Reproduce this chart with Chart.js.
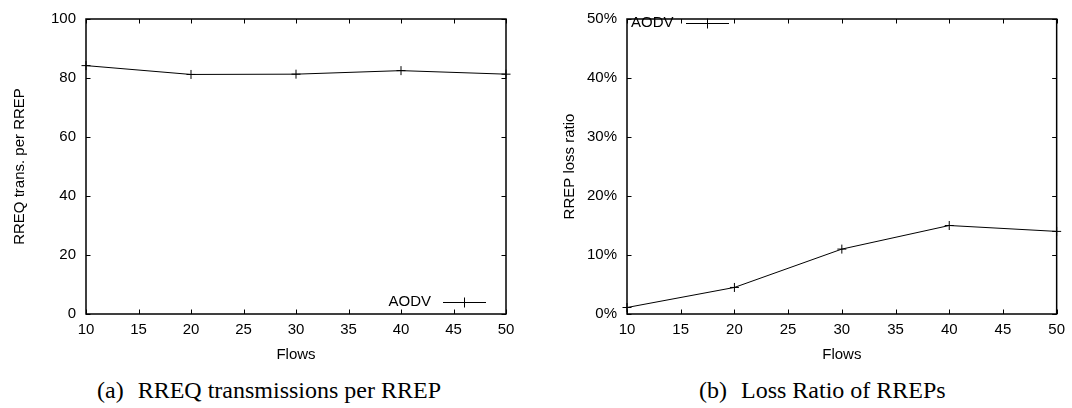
<!DOCTYPE html>
<html><head><meta charset="utf-8">
<script src="https://cdn.jsdelivr.net/npm/chart.js@4"></script>
<style>
html,body{margin:0;padding:0;background:#fff;}
body{width:1072px;height:408px;position:relative;overflow:hidden;}
.wrap{position:absolute;top:0;height:370px;}
.cap{position:absolute;top:378px;font-family:'Liberation Serif','Times New Roman',serif;font-size:24px;line-height:24px;white-space:nowrap;color:#000;}
.cap .tag{margin-right:14px;}
</style></head><body>
<div class="wrap" style="left:0;width:540px"><canvas id="c1" width="540" height="370"></canvas></div>
<div class="wrap" style="left:536px;width:536px"><canvas id="c2" width="536" height="370"></canvas></div>
<div class="cap" style="left:97px"><span class="tag">(a)</span>RREQ transmissions per RREP</div>
<div class="cap" style="left:699px"><span class="tag">(b)</span>Loss Ratio of RREPs</div>
<script>
const flows = [10, 20, 30, 40, 50];
const rreqPerRrep = [84.2, 81.2, 81.3, 82.5, 81.3];
const rrepLossPct = [1.1, 4.5, 11.0, 15.0, 14.0];
const seriesName = 'AODV';
const xRange = [10, 50], xStep = 5;
const yRangeA = [0, 100], yStepA = 20;
const yRangeB = [0, 50], yStepB = 10;

Chart.defaults.font.family = "'Liberation Sans', Arial, sans-serif";
Chart.defaults.font.size = 15;
Chart.defaults.color = '#000';

const framePlugin = {
  id: 'frame',
  afterDatasetsDraw(chart, args, opts) {
    const {ctx, chartArea: {left, right, top, bottom}, scales: {x, y}} = chart;
    ctx.save();
    ctx.strokeStyle = '#000';
    ctx.lineWidth = 1;
    const L = 4.5;
    ctx.beginPath();
    x.ticks.forEach(t => {
      const px = Math.round(x.getPixelForValue(t.value)) + 0.5;
      ctx.moveTo(px, bottom); ctx.lineTo(px, bottom - L);
      ctx.moveTo(px, top); ctx.lineTo(px, top + L);
    });
    y.ticks.forEach(t => {
      const py = Math.round(y.getPixelForValue(t.value)) + 0.5;
      ctx.moveTo(left, py); ctx.lineTo(left + L, py);
      ctx.moveTo(right, py); ctx.lineTo(right - L, py);
    });
    ctx.stroke();
    ctx.lineWidth = 1.5;
    ctx.strokeRect(left, top, right - left, bottom - top);
    // legend
    const lg = opts.legend;
    const ds = chart.data.datasets[0];
    ctx.font = "15px 'Liberation Sans', Arial, sans-serif";
    ctx.fillStyle = '#000';
    ctx.textBaseline = 'middle';
    ctx.textAlign = lg.align;
    ctx.fillText(ds.label, lg.textX, lg.y);
    ctx.lineWidth = 1;
    ctx.beginPath();
    ctx.moveTo(lg.x0, lg.y + 0.5); ctx.lineTo(lg.x1, lg.y + 0.5);
    const cx = (lg.x0 + lg.x1) / 2;
    ctx.moveTo(cx, lg.y - 4.5); ctx.lineTo(cx, lg.y + 5.5);
    ctx.stroke();
    ctx.restore();
  }
};

function makeChart(id, data, yRange, yStep, yTitle, yFmt, yWidth, yTitlePad, padRight, legend) {
  return new Chart(document.getElementById(id), {
    type: 'line',
    data: {
      labels: flows,
      datasets: [{
        label: seriesName,
        data: flows.map((f, i) => ({x: f, y: data[i]})),
        borderColor: '#000',
        borderWidth: 1,
        pointStyle: 'cross',
        pointRadius: 4.5,
        pointBorderWidth: 1,
        pointBorderColor: '#000',
        tension: 0,
        fill: false,
        clip: false
      }]
    },
    options: {
      responsive: false,
      animation: false,
      layout: {padding: {left: 0, top: 12, right: padRight, bottom: 0}},
      plugins: {legend: {display: false}, tooltip: {enabled: false}, frame: {legend}},
      scales: {
        x: {
          type: 'linear', min: xRange[0], max: xRange[1],
          grid: {display: false, drawTicks: false},
          border: {display: false},
          ticks: {stepSize: xStep, padding: 7, maxRotation: 0},
          title: {display: true, text: 'Flows', padding: {top: 0, bottom: 6}},
          afterFit: s => { s.height = 56; }
        },
        y: {
          min: yRange[0], max: yRange[1],
          grid: {display: false, drawTicks: false},
          border: {display: false},
          ticks: {stepSize: yStep, padding: 10, callback: yFmt},
          title: {display: true, text: yTitle, padding: {top: yTitlePad, bottom: 0}},
          afterFit: s => { s.width = yWidth; }
        }
      }
    },
    plugins: [framePlugin]
  });
}

makeChart('c1', rreqPerRrep, yRangeA, yStepA, 'RREQ trans. per RREP', v => String(v), 86, 11, 34,
  {align: 'right', textX: 431, y: 302, x0: 443, x1: 486});
makeChart('c2', rrepLossPct, yRangeB, yStepB, 'RREP loss ratio', v => v + '%', 91, 25, 15,
  {align: 'left', textX: 95, y: 23, x0: 150, x1: 193});
</script>
</body></html>
